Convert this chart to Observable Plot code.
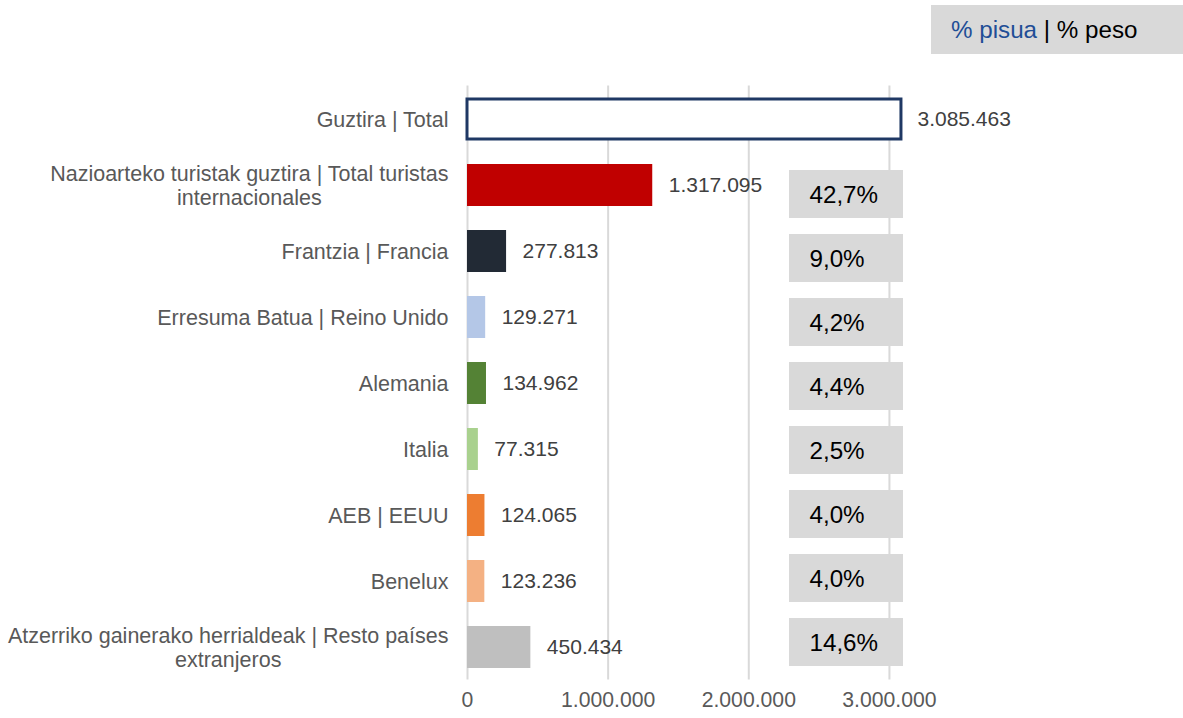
<!DOCTYPE html>
<html><head><meta charset="utf-8">
<script src="https://cdn.jsdelivr.net/npm/d3@7"></script>
<script src="https://cdn.jsdelivr.net/npm/@observablehq/plot@0.6"></script>
<style>
body{margin:0;background:#fff;}
#wrap{position:relative;width:1183px;height:718px;font-family:"Liberation Sans",Arial,sans-serif;}
#wrap svg{position:absolute;left:0;top:0;}
#legend{position:absolute;z-index:3;left:931px;top:5px;width:232px;height:49px;line-height:49px;padding-left:20px;background:#d9d9d9;font-size:24.2px;color:#000;}
</style></head><body>
<div id="wrap"><div id="legend"><span style="color:#1f4e96">% pisua</span> | % peso</div></div>
<script>
const categories = [
  "Guztira | Total",
  "Nazioarteko turistak guztira | Total turistas internacionales",
  "Frantzia | Francia",
  "Erresuma Batua | Reino Unido",
  "Alemania",
  "Italia",
  "AEB | EEUU",
  "Benelux",
  "Atzerriko gainerako herrialdeak | Resto países extranjeros"
];
const tickLabels = [
  "Guztira | Total",
  "Nazioarteko turistak guztira | Total turistas\ninternacionales",
  "Frantzia | Francia",
  "Erresuma Batua | Reino Unido",
  "Alemania",
  "Italia",
  "AEB | EEUU",
  "Benelux",
  "Atzerriko gainerako herrialdeak | Resto países\nextranjeros"
];
const values = [3085463, 1317095, 277813, 129271, 134962, 77315, 124065, 123236, 450434];
const shareCategories = categories.slice(1);
const shares = [42.7, 9.0, 4.2, 4.4, 2.5, 4.0, 4.0, 14.6];
const xTicks = [0, 1000000, 2000000, 3000000];
const palette = ["#ffffff", "#c00000", "#222a35", "#b4c7e7", "#548235", "#a9d18e", "#ed7d31", "#f4b183", "#bfbfbf"];

const loc = d3.formatLocale({decimal: ",", thousands: ".", grouping: [3], currency: ["", "€"]});
const fmt = loc.format(",d");
const font = '"Liberation Sans", Arial, sans-serif';

const rows = categories.map((c, i) => ({name: c, value: values[i]}));
const shareRows = shareCategories.map((c, i) => ({name: c, share: shares[i]}));

const main = Plot.plot({
  width: 1183, height: 718,
  marginLeft: 467, marginRight: 280, marginTop: 85.5, marginBottom: 38.5,
  style: {fontFamily: font, fontSize: "21px", background: "white"},
  x: {domain: [0, 3100000]},
  y: {domain: categories, padding: 0},
  color: {domain: categories, range: palette},
  marks: [
    Plot.ruleX(xTicks, {stroke: "#d9d9d9", strokeWidth: 2}),
    Plot.barX(rows.slice(1), {x: "value", y: "name", fill: "name", insetTop: 12, insetBottom: 12}),
    Plot.barX(rows.slice(0, 1), {x: "value", y: "name", fill: "white", stroke: "#1f3864", strokeWidth: 3, insetTop: 13, insetBottom: 13}),
    Plot.text(rows, {x: "value", y: "name", text: d => fmt(d.value), textAnchor: "start", dx: 16, fill: "#404040", fontSize: 21}),
    Plot.axisY({tickSize: 0, tickPadding: 19, tickFormat: d => tickLabels[categories.indexOf(d)], fill: "#595959", fontSize: 21.5, lineHeight: 1.12, label: null}),
    Plot.axisX({ticks: xTicks, tickSize: 0, tickPadding: 12, tickFormat: fmt, fill: "#595959", fontSize: 21.2, label: null})
  ]
});

const overlay = Plot.plot({
  width: 1183, height: 718,
  margin: 0,
  style: {fontFamily: font, fontSize: "24px", background: "transparent"},
  x: {type: "band", domain: ["peso"], range: [789, 903], padding: 0, axis: null},
  y: {type: "band", domain: shareCategories, range: [159, 677], padding: 0, axis: null},
  marks: [
    Plot.cell(shareRows, {x: () => "peso", y: "name", fill: "#d9d9d9", insetTop: 8, insetBottom: 8}),
    Plot.text(shareRows, {x: () => "peso", y: "name", text: d => d.share.toFixed(1).replace(".", ",") + "%", textAnchor: "start", dx: -37, dy: 1, fill: "#000", fontSize: 24.2})
  ]
});

const wrap = document.getElementById("wrap");
wrap.insertBefore(overlay, wrap.firstChild);
wrap.insertBefore(main, wrap.firstChild);

main.querySelectorAll('[aria-label="y-axis tick label"] text').forEach(t => {
  const spans = t.querySelectorAll("tspan");
  if (spans.length > 1) {
    const bb = t.getBBox();
    t.setAttribute("text-anchor", "middle");
    spans.forEach(s => s.setAttribute("x", bb.x + bb.width / 2));
  }
});
</script>
</body></html>
